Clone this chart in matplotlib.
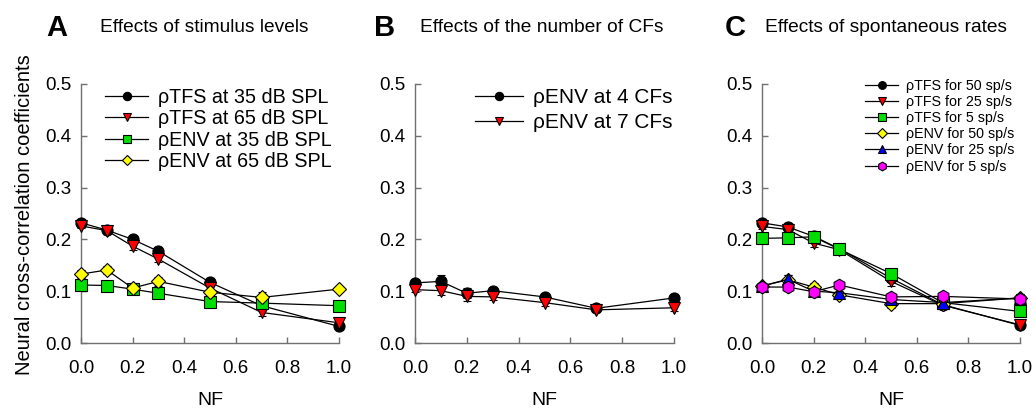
import matplotlib
matplotlib.use("Agg")
import matplotlib.pyplot as plt

plt.rcParams['font.family'] = ['Liberation Sans', 'DejaVu Sans']

nf = [0.0, 0.1, 0.2, 0.3, 0.5, 0.7, 1.0]

# Panel A
a_tfs35 = [0.232, 0.218, 0.200, 0.177, 0.117, 0.072, 0.032]
a_tfs35_err = [0.004, 0.008, 0.005, 0.006, 0.005, 0.006, 0.004]
a_tfs65 = [0.226, 0.217, 0.187, 0.162, 0.106, 0.059, 0.039]
a_tfs65_err = [0.004, 0.006, 0.007, 0.006, 0.005, 0.006, 0.004]
a_env35 = [0.112, 0.111, 0.104, 0.096, 0.080, 0.077, 0.072]
a_env35_err = [0.006, 0.009, 0.008, 0.006, 0.010, 0.006, 0.006]
a_env65 = [0.133, 0.141, 0.106, 0.119, 0.098, 0.088, 0.104]
a_env65_err = [0.008, 0.008, 0.008, 0.008, 0.007, 0.010, 0.006]

# Panel B
b_env4 = [0.116, 0.119, 0.096, 0.101, 0.089, 0.067, 0.087]
b_env4_err = [0.006, 0.012, 0.010, 0.008, 0.008, 0.006, 0.007]
b_env7 = [0.103, 0.101, 0.090, 0.089, 0.078, 0.064, 0.068]
b_env7_err = [0.005, 0.008, 0.008, 0.006, 0.006, 0.005, 0.006]

# Panel C
c_tfs50 = [0.232, 0.224, 0.206, 0.182, 0.125, 0.074, 0.034]
c_tfs50_err = [0.005, 0.006, 0.006, 0.005, 0.006, 0.006, 0.004]
c_tfs25 = [0.225, 0.219, 0.193, 0.180, 0.119, 0.073, 0.035]
c_tfs25_err = [0.005, 0.006, 0.008, 0.005, 0.008, 0.006, 0.004]
c_tfs5 = [0.202, 0.203, 0.205, 0.181, 0.134, 0.078, 0.061]
c_tfs5_err = [0.006, 0.006, 0.008, 0.005, 0.006, 0.006, 0.005]
c_env50 = [0.110, 0.122, 0.108, 0.093, 0.076, 0.076, 0.087]
c_env50_err = [0.006, 0.010, 0.008, 0.007, 0.008, 0.008, 0.007]
c_env25 = [0.110, 0.123, 0.100, 0.097, 0.084, 0.078, 0.087]
c_env25_err = [0.006, 0.008, 0.008, 0.007, 0.007, 0.007, 0.007]
c_env5 = [0.108, 0.108, 0.099, 0.112, 0.089, 0.090, 0.085]
c_env5_err = [0.006, 0.006, 0.008, 0.006, 0.007, 0.008, 0.007]

W, H = 1036, 409
fig = plt.figure(figsize=(W / 100, H / 100), dpi=100)

def add_ax(left_px, right_px, top_px=84, bottom_px=343):
    return fig.add_axes([left_px / W, (H - bottom_px) / H,
                         (right_px - left_px) / W, (bottom_px - top_px) / H])

axA = add_ax(81, 339)
axB = add_ax(415, 674)
axC = add_ax(762, 1020)

def style(ax):
    ax.set_xlim(0, 1.0)
    ax.set_ylim(0, 0.5)
    ax.set_xticks([0.0, 0.2, 0.4, 0.6, 0.8, 1.0])
    ax.set_xticklabels(['0.0', '0.2', '0.4', '0.6', '0.8', '1.0'])
    ax.set_yticks([0.0, 0.1, 0.2, 0.3, 0.4, 0.5])
    ax.set_yticklabels(['0.0', '0.1', '0.2', '0.3', '0.4', '0.5'])
    for s in ['top', 'right']:
        ax.spines[s].set_visible(False)
    for s in ['left', 'bottom']:
        ax.spines[s].set_color('#707070')
        ax.spines[s].set_linewidth(1.0)
    ax.tick_params(direction='in', length=4, width=1, color='#707070',
                   labelsize=13.5)
    ax.tick_params(axis='x', pad=12)
    ax.tick_params(axis='y', pad=7)
    ax.set_xlabel('NF', fontsize=14, labelpad=11)

def series(ax, y, e, marker, color, label, ms=8):
    ax.errorbar(nf, y, yerr=e, color='black', lw=0.9, marker=marker, ms=ms,
                mfc=color, mec='black', mew=0.8, capsize=3, elinewidth=0.8,
                capthick=0.8, label=label, clip_on=False, zorder=3)

series(axA, a_tfs35, a_tfs35_err, 'o', 'black', 'ρTFS at 35 dB SPL')
series(axA, a_tfs65, a_tfs65_err, 'v', 'red', 'ρTFS at 65 dB SPL')
series(axA, a_env35, a_env35_err, 's', '#00dd00', 'ρENV at 35 dB SPL')
series(axA, a_env65, a_env65_err, 'D', '#ffff00', 'ρENV at 65 dB SPL', ms=7)

series(axB, b_env4, b_env4_err, 'o', 'black', 'ρENV at 4 CFs')
series(axB, b_env7, b_env7_err, 'v', 'red', 'ρENV at 7 CFs')

series(axC, c_tfs50, c_tfs50_err, 'o', 'black', 'ρTFS for 50 sp/s')
series(axC, c_tfs25, c_tfs25_err, 'v', 'red', 'ρTFS for 25 sp/s')
series(axC, c_tfs5, c_tfs5_err, 's', '#00dd00', 'ρTFS for 5 sp/s')
series(axC, c_env50, c_env50_err, 'D', '#ffff00', 'ρENV for 50 sp/s', ms=7)
series(axC, c_env25, c_env25_err, '^', '#0000ff', 'ρENV for 25 sp/s')
series(axC, c_env5, c_env5_err, 'h', '#ff00ff', 'ρENV for 5 sp/s', ms=9)

for ax in (axA, axB, axC):
    style(ax)

def legend(ax, loc, fs, ms_scale, spacing, hl, hp):
    handles, labels = ax.get_legend_handles_labels()
    handles = [h[0] for h in handles]
    ax.legend(handles, labels, loc='upper left', bbox_to_anchor=loc,
              frameon=False, fontsize=fs, markerscale=ms_scale,
              handlelength=hl, handletextpad=hp, labelspacing=spacing,
              borderaxespad=0, borderpad=0)

legend(axA, (0.093, 0.985), 14.2, 0.75, 0.12, 2.2, 0.5)
legend(axB, (0.232, 0.985), 15, 0.75, 0.3, 2.3, 0.5)
legend(axC, (0.40, 1.02), 10.3, 0.7, 0.15, 2.3, 0.55)

fig.text(25 / W, 1 - 215 / H, 'Neural cross-correlation coefficients',
         rotation=90, fontsize=14.5, ha='center', va='center')

for x_letter, x_title, letter, title in [
        (57, 100, 'A', 'Effects of stimulus levels'),
        (385, 420, 'B', 'Effects of the number of CFs'),
        (735, 765, 'C', 'Effects of spontaneous rates')]:
    fig.text(x_letter / W, 1 - 28 / H, letter, fontsize=21, fontweight='bold',
             ha='center', va='center')
    fig.text(x_title / W, 1 - 28 / H, title, fontsize=13.8,
             ha='left', va='center')

fig.savefig('out.png', dpi=100)
